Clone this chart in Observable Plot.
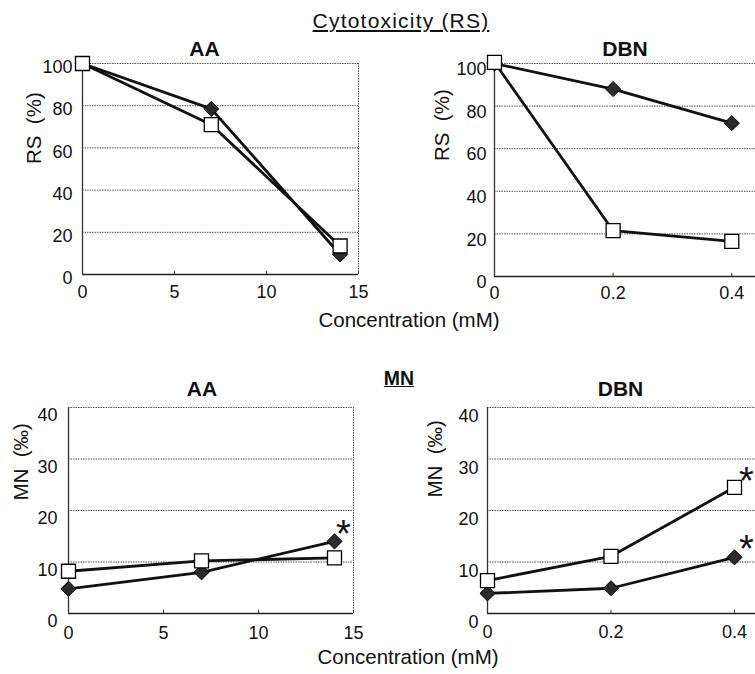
<!DOCTYPE html>
<html>
<head>
<meta charset="utf-8">
<script src="https://cdn.jsdelivr.net/npm/d3@7"></script>
<script src="https://cdn.jsdelivr.net/npm/@observablehq/plot@0.6"></script>
<style>
  body { margin: 0; background: white; }
  #wrap { position: relative; width: 755px; height: 674px; overflow: hidden; background: white;
          font-family: "Liberation Sans", Arial, Helvetica, sans-serif; color: #111; }
  .panel { position: absolute; }
  .lbl { position: absolute; white-space: nowrap; line-height: 1; transform: translateX(-50%); }
</style>
</head>
<body>
<div id="wrap"></div>
<script>
// ---------- data ----------
const aaConc = [0, 7, 14];              // mM
const dbnConc = [0, 0.2, 0.4];          // mM
// Cytotoxicity (RS, %)
const rsAA_diamond = [100, 78.5, 9.5];
const rsAA_square  = [100, 71, 13.5];
const rsDBN_diamond = [100, 88, 72];
const rsDBN_square  = [100.5, 21.5, 16.5];
// Micronuclei (MN, ‰)
const mnAA_diamond = [4.8, 8, 14];
const mnAA_square  = [8.2, 10.2, 10.8];
const mnDBN_diamond = [3.9, 4.9, 10.9];
const mnDBN_square  = [6.4, 11.1, 24.5];
// significance marks (index of point)
const mnAA_starDiamond = [2];
const mnDBN_starDiamond = [2];
const mnDBN_starSquare = [2];
// ticks
const rsTicks = [0, 20, 40, 60, 80, 100];
const mnTicks = [0, 10, 20, 30, 40];
const aaTicks = [0, 5, 10, 15];
const dbnTicks = [0, 0.2, 0.4];
const dbnTickLabels = ["0", "0.2", "0.4"];

const FONT = '"Liberation Sans", Arial, Helvetica, sans-serif';
const wrap = document.getElementById("wrap");

function series(xs, ys) { return xs.map((x, i) => ({x, y: ys[i]})); }

function panel(o) {
  const dia = series(o.xs, o.dia);
  const sq = series(o.xs, o.sq);
  const ymax = o.yDomain[1];
  const marks = [
    Plot.ruleY(o.yTicks.filter(t => t > 0), {y: d => d, stroke: "#555", strokeWidth: 1, strokeDasharray: "1.5 1"}),
    ...(o.rightBorder ? [Plot.ruleX([o.xDomain[1]], {x: d => d, stroke: "#444", strokeWidth: 1, strokeDasharray: "1.5 1"})] : []),
    Plot.ruleY([0], {y: d => d, stroke: "#222", strokeWidth: 1.5}),
    Plot.ruleX([0], {x: d => d, stroke: "#333", strokeWidth: 1.3}),
    Plot.ruleX(o.xTicks.filter(t => t > 0), {x: d => d, y1: 0, y2: ymax * 0.015, stroke: "#333", strokeWidth: 1}),
    Plot.line(dia, {x: "x", y: "y", stroke: "#111", strokeWidth: 2.8}),
    Plot.line(sq, {x: "x", y: "y", stroke: "#111", strokeWidth: 2.8}),
    Plot.dot(dia, {x: "x", y: "y", symbol: "diamond2", r: 6.8, fill: "#2b2b2b", stroke: "#000", strokeWidth: 1}),
    Plot.dot(sq, {x: "x", y: "y", symbol: "square", r: 7.9, fill: "white", stroke: "#000", strokeWidth: 1.3}),
    // y tick labels
    Plot.text(o.yTicks, {y: d => d, text: d => String(d), frameAnchor: "left", textAnchor: "end",
      dx: o.yLabDx, dy: o.yLabDy, fontSize: 18, fill: "#111"}),
    // x tick labels
    Plot.text(o.xTicks, {x: d => d, text: (d, i) => o.xTickLabels[i], frameAnchor: "bottom",
      lineAnchor: "middle", dy: o.xLabDy, fontSize: 18, fill: "#111"}),
    // panel title
    Plot.text([o.title], {text: d => d, frameAnchor: "top", lineAnchor: "bottom", dx: o.titleDx, dy: o.titleDy,
      fontSize: 21, fontWeight: "bold", fill: "#111"}),
    // y axis label
    Plot.text([o.ylabel], {text: d => d, frameAnchor: "left", rotate: -90, dx: o.ylabDx, dy: o.ylabDy,
      fontSize: 20.5, fill: "#111"}),
  ];
  for (const st of (o.stars || [])) {
    marks.push(Plot.text(st.idx.map(i => st.data[i]), {x: "x", y: "y", text: () => "*", fontSize: 38,
      lineAnchor: "bottom", dx: st.dx, dy: st.dy, fill: "#111"}));
  }
  const svg = Plot.plot({
    width: o.width, height: o.height,
    marginLeft: o.mL, marginRight: o.mR, marginTop: o.mT, marginBottom: o.mB,
    x: {domain: o.xDomain, axis: null},
    y: {domain: o.yDomain, axis: null},
    style: {fontFamily: FONT, background: "transparent", overflow: "visible", maxWidth: "none"},
    marks
  });
  svg.classList.add("panel");
  svg.style.left = o.left + "px";
  svg.style.top = o.top + "px";
  wrap.appendChild(svg);
}

// top-left: AA cytotoxicity
panel({left: 0, top: 0, width: 380, height: 300, mL: 82, mR: 22, mT: 63, mB: 26,
  xDomain: [0, 15], yDomain: [0, 100], xs: aaConc, dia: rsAA_diamond, sq: rsAA_square,
  xTicks: aaTicks, xTickLabels: aaTicks.map(String), yTicks: rsTicks, rightBorder: true,
  yLabDx: -10, yLabDy: 4, xLabDy: 18, title: "AA", titleDx: -16, titleDy: -8,
  ylabel: "RS\u00a0\u00a0(%)", ylabDx: -48, ylabDy: -5});

// top-right: DBN cytotoxicity
panel({left: 380, top: 0, width: 375, height: 300, mL: 114, mR: 0, mT: 63, mB: 24,
  xDomain: [0, 0.44], yDomain: [0, 100], xs: dbnConc, dia: rsDBN_diamond, sq: rsDBN_square,
  xTicks: dbnTicks, xTickLabels: dbnTickLabels, yTicks: rsTicks, rightBorder: false,
  yLabDx: -8, yLabDy: 6, xLabDy: 17, title: "DBN", titleDx: 0, titleDy: -8,
  ylabel: "RS\u00a0\u00a0(%)", ylabDx: -52, ylabDy: -9});

// bottom-left: AA micronuclei
panel({left: 0, top: 300, width: 380, height: 374, mL: 68, mR: 27, mT: 107, mB: 61,
  xDomain: [0, 15], yDomain: [0, 40], xs: aaConc, dia: mnAA_diamond, sq: mnAA_square,
  xTicks: aaTicks, xTickLabels: aaTicks.map(String), yTicks: mnTicks, rightBorder: true,
  yLabDx: -11, yLabDy: 8, xLabDy: 20, title: "AA", titleDx: -9, titleDy: -12,
  ylabel: "MN\u00a0\u00a0(‰)", ylabDx: -47, ylabDy: -10,
  stars: [{data: series(aaConc, mnAA_diamond), idx: mnAA_starDiamond, dx: 9, dy: 6}]});

// bottom-right: DBN micronuclei
panel({left: 380, top: 300, width: 375, height: 374, mL: 107, mR: 0, mT: 107, mB: 61,
  xDomain: [0, 0.434], yDomain: [0, 40], xs: dbnConc, dia: mnDBN_diamond, sq: mnDBN_square,
  xTicks: dbnTicks, xTickLabels: dbnTickLabels, yTicks: mnTicks, rightBorder: false,
  yLabDx: -9, yLabDy: 9, xLabDy: 19, title: "DBN", titleDx: -1, titleDy: -12,
  ylabel: "MN\u00a0\u00a0(‰)", ylabDx: -52, ylabDy: -13,
  stars: [{data: series(dbnConc, mnDBN_square), idx: mnDBN_starSquare, dx: 12, dy: 7},
          {data: series(dbnConc, mnDBN_diamond), idx: mnDBN_starDiamond, dx: 12, dy: 5}]});

// shared labels
function label(text, cx, top, size, extra) {
  const d = document.createElement("div");
  d.className = "lbl";
  d.textContent = text;
  d.style.left = cx + "px";
  d.style.top = top + "px";
  d.style.fontSize = size + "px";
  Object.assign(d.style, extra || {});
  wrap.appendChild(d);
}
label("Cytotoxicity (RS)", 401, 10, 21, {textDecoration: "underline", letterSpacing: "1.2px"});
label("Concentration (mM)", 409, 310, 20.5, {});
label("MN", 399, 369, 19.5, {textDecoration: "underline", fontWeight: "bold"});
label("Concentration (mM)", 408, 647, 20.5, {});
</script>
</body>
</html>
